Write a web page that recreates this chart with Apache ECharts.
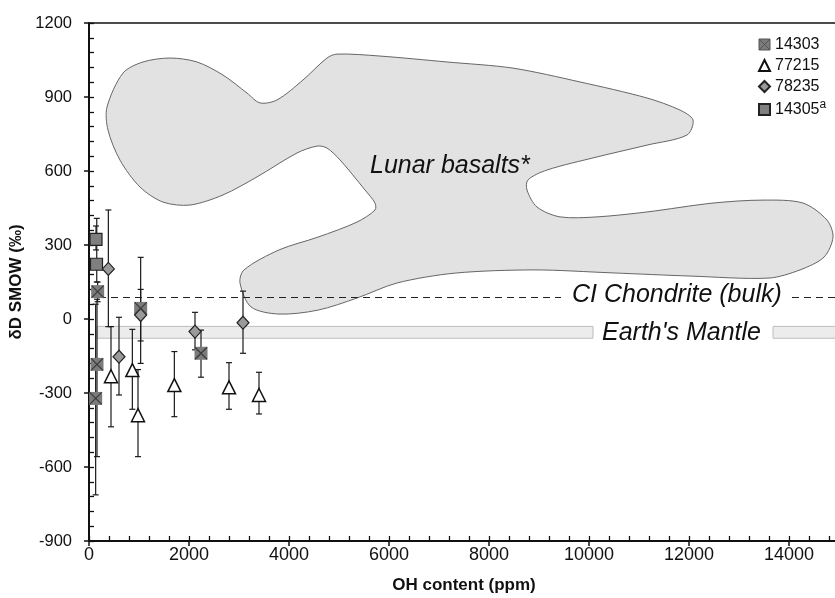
<!DOCTYPE html>
<html>
<head>
<meta charset="utf-8">
<script src="https://cdn.jsdelivr.net/npm/echarts@6/dist/echarts.min.js"></script>
<style>
  html, body { margin: 0; padding: 0; background: #fff; }
  #chart { width: 835px; height: 598px; }
</style>
</head>
<body>
<div id="chart"></div>
<script>
// OH content (ppm) and δD SMOW (‰) for each sample
const s14303 = [[133, -322], [160, -184], [173, 111], [1033, 43], [2240, -139]];
const s77215 = [[440, -232], [867, -207], [980, -390], [1707, -268], [2800, -277], [3400, -308]];
const s78235 = [[387, 203], [600, -153], [1033, 16], [2120, -51], [3080, -15]];
const s14305 = [[140, 323], [150, 222]];

// error bars: [OH, low, high]
const err14303 = [[133, -713, 60], [160, -558, 80], [173, 70, 150], [1033, -89, 120], [2240, -236, -45]];
const err77215 = [[440, -437, -31], [867, -366, -42], [980, -558, -205], [1707, -396, -132], [2800, -366, -177], [3400, -385, -216]];
const err78235 = [[387, -31, 442], [600, -308, 7], [1033, -180, 250], [2120, -125, 27], [3080, -139, 113]];
const err14305 = [[140, 280, 377], [155, 150, 408]];

// reference values
const chondriteD = 90;
const chondriteSpans = [[200, 9440], [14060, 15000]];
const mantleRange = [-30, -78];
const mantleSpans = [[160, 10080], [13680, 15000]];

// outline of the lunar basalt field
const lunarX = [360, 680, 1080, 1620, 2160, 2680, 3160, 3420, 3760, 4280, 4760, 4960, 5820, 7160, 8480, 9820,
  11160, 11820, 12080, 11960, 11160, 10160, 9160, 8780, 8760, 8960, 9420, 10160, 11160, 12480, 13480, 14280,
  14760, 14880, 14700, 14220, 13600, 12040, 10460, 8900, 7320, 6160, 5360, 4580, 3800, 3240, 3020, 3100,
  3800, 4580, 5360, 5720, 5720, 5520, 5020, 4760, 4560, 4160, 3360, 2680, 2020, 1480, 1020, 620, 380];
const lunarY = [859, 997, 1042, 1058, 1042, 989, 916, 876, 888, 969, 1058, 1074, 1066, 1042, 1017, 961,
  896, 847, 807, 746, 705, 657, 604, 564, 523, 454, 414, 414, 434, 470, 482, 470,
  401, 332, 251, 199, 166, 174, 187, 199, 186, 146, 85, 36, 20, 49, 146, 199,
  280, 332, 393, 442, 470, 523, 645, 693, 701, 673, 576, 503, 462, 474, 535, 644, 766];

const X_MIN = 0, X_MAX = 15000, Y_MIN = -900, Y_MAX = 1200;
const FONT = '"Liberation Sans", Arial, sans-serif';
const SQUARE_X = 'path://M0 0H10V10H0Z M0 0L10 10M10 0L0 10';

const chart = echarts.init(document.getElementById('chart'));

const lunarData = lunarX.map((x, i) => [x, lunarY[i]]);
const errData = [].concat(err14303, err77215, err78235, err14305);

function renderErrorBar(params, api) {
  const x = api.value(0);
  const lo = api.coord([x, api.value(1)]);
  const hi = api.coord([x, api.value(2)]);
  const w = 3;
  const style = { stroke: '#1a1a1a', lineWidth: 1.2 };
  return {
    type: 'group',
    children: [
      { type: 'line', shape: { x1: lo[0], y1: lo[1], x2: hi[0], y2: hi[1] }, style },
      { type: 'line', shape: { x1: lo[0] - w, y1: lo[1], x2: lo[0] + w, y2: lo[1] }, style },
      { type: 'line', shape: { x1: hi[0] - w, y1: hi[1], x2: hi[0] + w, y2: hi[1] }, style },
    ],
  };
}

function renderLunar(params, api) {
  if (params.dataIndex !== 0) {
    return;
  }
  const points = lunarData.map((d) => api.coord(d));
  return {
    type: 'polygon',
    shape: { points, smooth: 0.3 },
    style: { fill: '#e2e2e2', stroke: '#666', lineWidth: 1 },
  };
}

const plainNumber = (v) => String(v);
const hiddenAxisBase = { min: X_MIN, max: X_MAX, axisLabel: { show: false }, splitLine: { show: false } };

chart.setOption({
  animation: false,
  backgroundColor: '#fff',
  textStyle: { fontFamily: FONT },
  grid: { left: 89, top: 23, width: 750, height: 518, containLabel: false, outerBoundsMode: 'none' },
  legend: {
    orient: 'vertical',
    left: 758,
    top: 36,
    padding: 0,
    itemGap: 4,
    itemWidth: 11,
    itemHeight: 11,
    selectedMode: false,
    textStyle: {
      fontSize: 16, color: '#111', lineHeight: 17,
      rich: { sup: { fontSize: 12, lineHeight: 17, padding: [0, 0, 9, 0] } },
    },
    formatter: (name) => (name === '14305' ? '14305{sup|a}' : name),
    data: [
      { name: '14303', icon: SQUARE_X, itemStyle: { color: '#7b7b7b', borderColor: '#555', borderWidth: 1 } },
      { name: '77215', icon: 'triangle' },
      { name: '78235', icon: 'diamond' },
      { name: '14305', icon: 'rect' },
    ],
  },
  xAxis: [
    {
      type: 'value', min: X_MIN, max: X_MAX, interval: 2000, position: 'bottom',
      name: 'OH content (ppm)', nameLocation: 'middle', nameGap: 36,
      nameTextStyle: { fontSize: 17, fontWeight: 'bold', color: '#111' },
      axisLine: { onZero: false, lineStyle: { color: '#111', width: 2 } },
      axisTick: { inside: false, length: 5, lineStyle: { color: '#111', width: 1.5 } },
      axisLabel: { fontSize: 18, color: '#111', margin: 5, showMaxLabel: false, formatter: plainNumber },
      splitLine: { show: false },
    },
    Object.assign({}, hiddenAxisBase, {
      type: 'value', interval: 400, position: 'bottom',
      axisLine: { show: false, onZero: false },
      axisTick: { inside: true, length: 5, lineStyle: { color: '#111', width: 1.3 } },
    }),
    Object.assign({}, hiddenAxisBase, {
      type: 'value', interval: 2000, position: 'top',
      axisLine: { show: true, onZero: false, lineStyle: { color: '#111', width: 1.5 } },
      axisTick: { show: false },
    }),
  ],
  yAxis: [
    {
      type: 'value', min: Y_MIN, max: Y_MAX, interval: 300, position: 'left',
      name: 'δD SMOW (‰)', nameLocation: 'middle', nameGap: 51,
      nameTextStyle: { fontSize: 17, fontWeight: 'bold', color: '#111' },
      axisLine: { onZero: false, lineStyle: { color: '#111', width: 2 } },
      axisTick: { inside: false, length: 5, lineStyle: { color: '#111', width: 1.5 } },
      axisLabel: { fontSize: 16.5, color: '#111', margin: 17, formatter: plainNumber },
      splitLine: { show: false },
    },
    {
      type: 'value', min: Y_MIN, max: Y_MAX, interval: 60, position: 'left',
      axisLabel: { show: false }, splitLine: { show: false },
      axisLine: { show: false, onZero: false },
      axisTick: { inside: true, length: 5, lineStyle: { color: '#111', width: 1.3 } },
    },
  ],
  graphic: [
    { type: 'text', x: 370, y: 166, z: 50, style: { text: 'Lunar basalts*', font: 'italic 25px ' + FONT, fill: '#111', verticalAlign: 'middle' } },
    { type: 'text', x: 572, y: 295, z: 50, style: { text: 'CI Chondrite (bulk)', font: 'italic 25px ' + FONT, fill: '#111', verticalAlign: 'middle' } },
    { type: 'text', x: 602, y: 333, z: 50, style: { text: "Earth's Mantle", font: 'italic 25px ' + FONT, fill: '#111', verticalAlign: 'middle' } },
  ],
  series: [
    {
      name: 'Lunar basalts', type: 'custom', z: 1, silent: true,
      renderItem: renderLunar, data: lunarData, encode: { x: 0, y: 1 },
    },
    {
      name: 'refs', type: 'scatter', z: 2, silent: true, data: [],
      markArea: {
        silent: true,
        itemStyle: { color: '#ececec', borderColor: '#bdbdbd', borderWidth: 1 },
        label: { show: false },
        data: mantleSpans.map(([a, b]) => [{ coord: [a, mantleRange[0]] }, { coord: [b, mantleRange[1]] }]),
      },
      markLine: {
        silent: true, symbol: ['none', 'none'], label: { show: false },
        lineStyle: { color: '#222', width: 1, type: [7, 5] },
        data: chondriteSpans.map(([a, b]) => [{ coord: [a, chondriteD] }, { coord: [b, chondriteD] }]),
      },
    },
    {
      name: 'errors', type: 'custom', z: 4, silent: true,
      renderItem: renderErrorBar, data: errData, encode: { x: 0, y: [1, 2] },
    },
    {
      name: '14303', type: 'scatter', z: 5, symbol: 'rect', symbolSize: 13, data: s14303,
      itemStyle: { color: '#7b7b7b', opacity: 1 },
    },
    {
      name: '14303x', type: 'scatter', z: 6, symbol: 'path://M0 0L10 10M10 0L0 10', symbolSize: 12, data: s14303,
      itemStyle: { color: 'none', borderColor: '#3a3a3a', borderWidth: 1.2, opacity: 1 },
    },
    {
      name: '77215', type: 'scatter', z: 5, symbol: 'triangle', symbolSize: [13, 13], data: s77215,
      itemStyle: { color: '#fff', borderColor: '#111', borderWidth: 1.5, opacity: 1 },
    },
    {
      name: '78235', type: 'scatter', z: 5, symbol: 'diamond', symbolSize: [12, 13], data: s78235,
      itemStyle: { color: '#9a9a9a', borderColor: '#222', borderWidth: 1.2, opacity: 1 },
    },
    {
      name: '14305', type: 'scatter', z: 5, symbol: 'rect', symbolSize: 12, data: s14305,
      itemStyle: { color: '#7f7f7f', borderColor: '#222', borderWidth: 1.2, opacity: 1 },
    },
  ],
});
</script>
</body>
</html>
